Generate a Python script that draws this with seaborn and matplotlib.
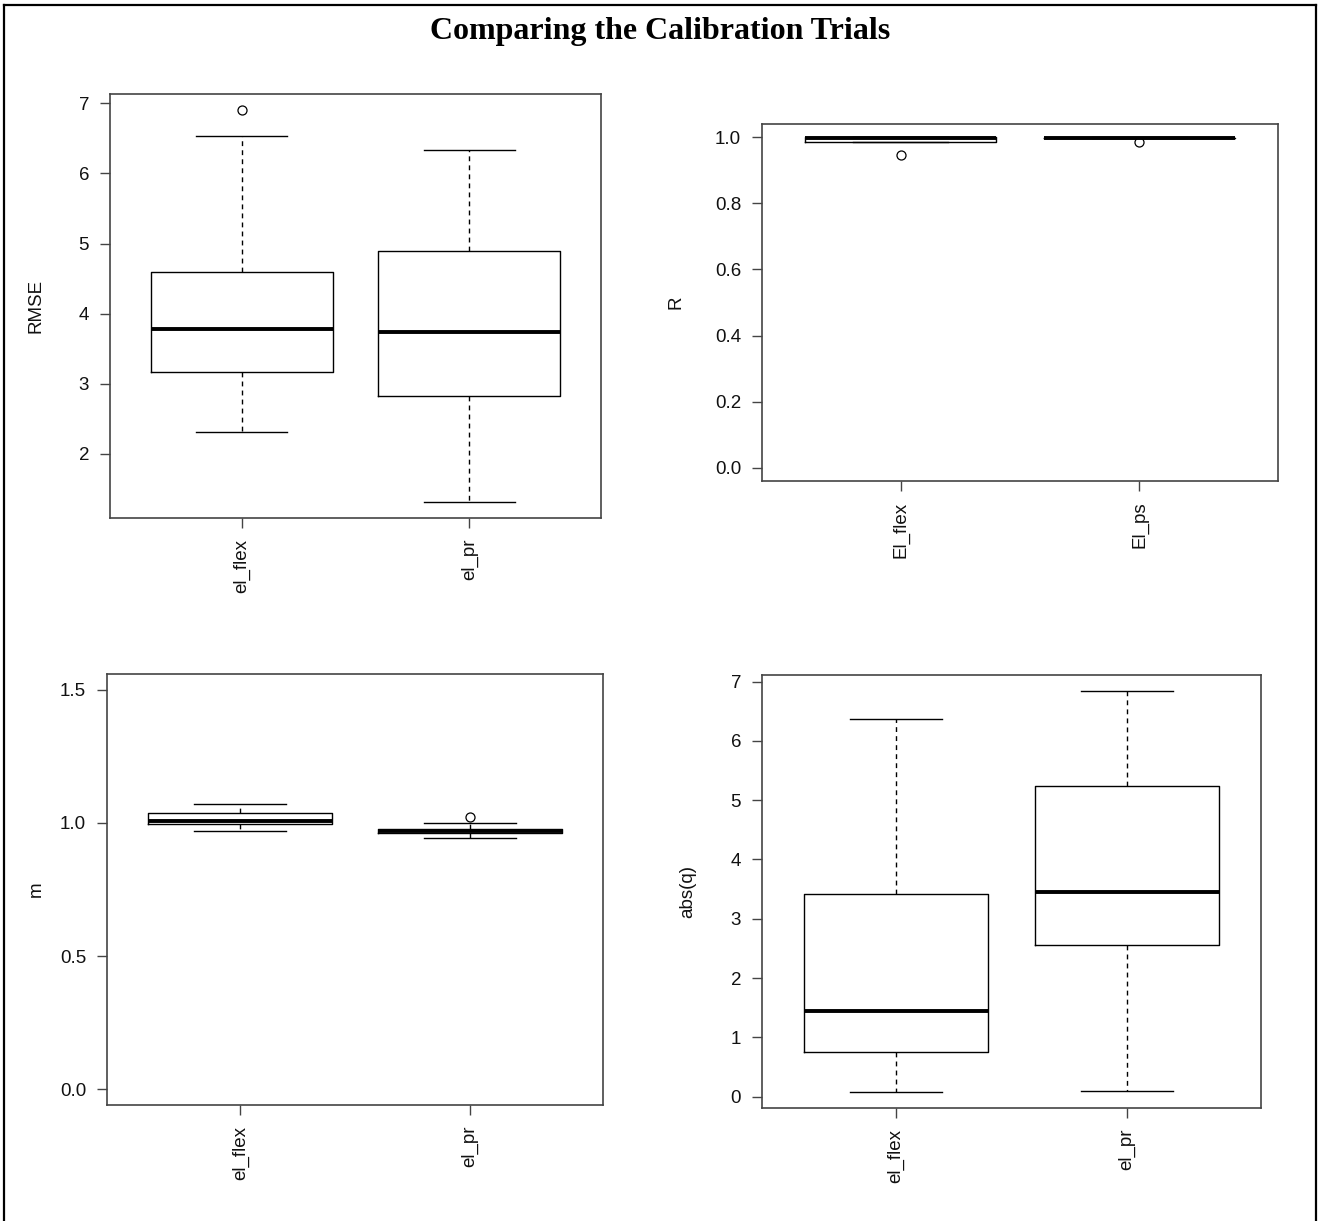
import matplotlib
matplotlib.use("Agg")
import matplotlib.pyplot as plt
from matplotlib.lines import Line2D
import numpy as np
import pandas as pd
import seaborn as sns

# ---- summary values for each panel (whisker low, Q1, median, Q3, whisker high, outliers)
rmse_groups = ["el_flex", "el_pr"]
rmse_lo = [2.31, 1.31]
rmse_q1 = [3.17, 2.83]
rmse_med = [3.78, 3.74]
rmse_q3 = [4.60, 4.90]
rmse_hi = [6.53, 6.34]
rmse_out = [[6.91], []]

r_groups = ["El_flex", "El_ps"]
r_lo = [0.986, 0.997]
r_q1 = [0.987, 0.998]
r_med = [0.999, 0.999]
r_q3 = [1.000, 0.999]
r_hi = [1.000, 1.000]
r_out = [[0.947], [0.987]]

m_groups = ["el_flex", "el_pr"]
m_lo = [0.971, 0.942]
m_q1 = [0.997, 0.961]
m_med = [1.009, 0.970]
m_q3 = [1.036, 0.979]
m_hi = [1.071, 1.000]
m_out = [[], [1.024]]

q_groups = ["el_flex", "el_pr"]
q_lo = [0.08, 0.10]
q_q1 = [0.76, 2.55]
q_med = [1.45, 3.46]
q_q3 = [3.41, 5.24]
q_hi = [6.37, 6.84]
q_out = [[], []]

title = "Comparing the Calibration Trials"


def group_sample(lo, q1, med, q3, hi, outs):
    """Nine observations whose quartiles and whiskers equal the given summary."""
    low = [o for o in outs if o < lo]
    high = [o for o in outs if o > hi]
    lower = low + [lo]
    while len(lower) < 2:
        lower.append(q1)
    upper = [hi] + high
    while len(upper) < 2:
        upper.insert(0, q3)
    return lower + [q1, med, med, med, q3] + upper


def build_frame(groups, lo, q1, med, q3, hi, outs):
    rows = []
    for i, g in enumerate(groups):
        for v in group_sample(lo[i], q1[i], med[i], q3[i], hi[i], outs[i]):
            rows.append({"group": g, "value": v})
    return pd.DataFrame(rows)


plt.rcParams["font.family"] = ["Liberation Sans", "DejaVu Sans"]

W, H = 1319, 1221
fig = plt.figure(figsize=(W / 100, H / 100), dpi=100)

FS = 13.5


def panel(x0, y0, x1, y1):
    return fig.add_axes([x0 / W, 1 - y1 / H, (x1 - x0) / W, (y1 - y0) / H])


def r_range(lo, hi):
    pad = (hi - lo) * 0.04
    return lo - pad, hi + pad


def draw(ax, groups, lo, q1, med, q3, hi, outs, ylabel, ylim, yticks, yticklabels, label_dx):
    df = build_frame(groups, lo, q1, med, q3, hi, outs)
    sns.boxplot(
        data=df, x="group", y="value", order=groups, ax=ax,
        width=0.8, fill=False, color="black", linewidth=1.0, whis=1.5,
        whiskerprops=dict(linestyle=(0, (3.5, 3)), color="black"),
        capprops=dict(color="black"),
        boxprops=dict(color="black"),
        medianprops=dict(linewidth=2.8, color="black", solid_capstyle="butt"),
        flierprops=dict(marker="o", markersize=6.5, markerfacecolor="none",
                        markeredgecolor="black", markeredgewidth=0.9),
    )
    ax.set_xlim(-0.58, len(groups) - 1 + 0.58)
    ax.set_ylim(*ylim)
    ax.set_yticks(yticks)
    ax.set_yticklabels(yticklabels)
    ax.set_xticks(range(len(groups)))
    ax.set_xticklabels(groups, rotation=90)
    ax.set_xlabel("")
    ax.set_ylabel(ylabel, fontsize=FS, color="#111111", va="center")
    bbox = ax.get_position()
    ax.yaxis.set_label_coords(-label_dx / (bbox.width * W), 0.5)
    ax.tick_params(axis="both", direction="out", length=7, width=1.0,
                   color="#444444", labelsize=FS, labelcolor="#111111", pad=8)
    for s in ax.spines.values():
        s.set_color("#444444")
        s.set_linewidth(1.2)
    ax.grid(False)


ax1 = panel(110, 94, 601, 518)
all_rmse = rmse_lo + rmse_hi + sum(rmse_out, [])
draw(ax1, rmse_groups, rmse_lo, rmse_q1, rmse_med, rmse_q3, rmse_hi, rmse_out,
     "RMSE", r_range(min(all_rmse), max(all_rmse)),
     [2, 3, 4, 5, 6, 7], ["2", "3", "4", "5", "6", "7"], 74)

ax2 = panel(762, 124, 1278, 481)
draw(ax2, r_groups, r_lo, r_q1, r_med, r_q3, r_hi, r_out,
     "R", r_range(0, 1),
     [0, 0.2, 0.4, 0.6, 0.8, 1.0], ["0.0", "0.2", "0.4", "0.6", "0.8", "1.0"], 86)

ax3 = panel(107, 674, 603, 1105)
draw(ax3, m_groups, m_lo, m_q1, m_med, m_q3, m_hi, m_out,
     "m", r_range(0, 1.5),
     [0, 0.5, 1.0, 1.5], ["0.0", "0.5", "1.0", "1.5"], 71)

ax4 = panel(762, 675, 1261, 1108)
all_q = q_lo + q_hi + sum(q_out, [])
draw(ax4, q_groups, q_lo, q_q1, q_med, q_q3, q_hi, q_out,
     "abs(q)", r_range(min(all_q), max(all_q)),
     list(range(8)), [str(i) for i in range(8)], 74)

fig.text(660 / W, 1 - 31 / H, title, ha="center", va="center",
         fontsize=23, fontweight="bold",
         family=["Liberation Serif", "DejaVu Serif"])

# frame around the page
for xs, ys in [((3.5, 3.5), (5, 1221)), ((3.5, 1316), (5, 5)), ((1316, 1316), (5, 1221))]:
    fig.add_artist(Line2D([x / W for x in xs], [1 - y / H for y in ys],
                          color="black", linewidth=1.6, transform=fig.transFigure,
                          solid_capstyle="projecting"))

fig.savefig("out.png", dpi=100)
